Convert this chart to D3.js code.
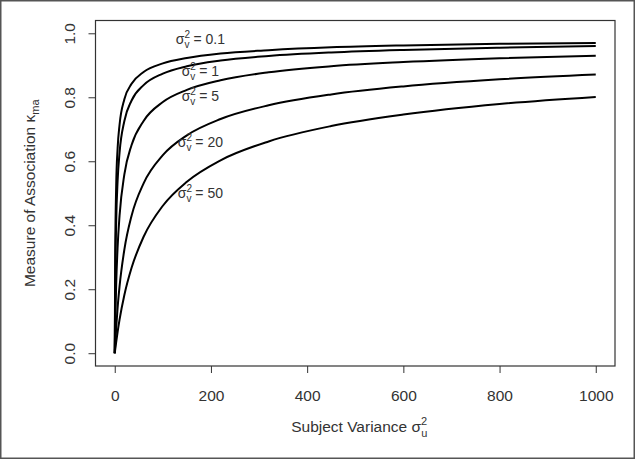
<!DOCTYPE html>
<html>
<head>
<meta charset="utf-8">
<script src="https://cdn.jsdelivr.net/npm/d3@7"></script>
<style>
  body { margin: 0; background: #fff; }
  text { font-family: "Liberation Sans", Arial, sans-serif; fill: #333; }
</style>
</head>
<body>
<div id="chart-area"></div>
<script>

// subject variance (x) and the kappa curves
const suValues = [0, 1, 3, 6, 10, 20, 35, 60, 100, 150, 220, 320, 450, 600, 800, 1000];
const kappaV01 = [0, 0.316, 0.523, 0.641, 0.714, 0.794, 0.842, 0.879, 0.906, 0.923, 0.937, 0.947, 0.956, 0.962, 0.967, 0.970];
const kappaV1  = [0, 0.216, 0.410, 0.540, 0.627, 0.726, 0.790, 0.838, 0.874, 0.897, 0.915, 0.929, 0.940, 0.948, 0.955, 0.960];
const kappaV5  = [0, 0.091, 0.216, 0.333, 0.430, 0.559, 0.651, 0.726, 0.785, 0.823, 0.853, 0.878, 0.897, 0.910, 0.922, 0.930];
const kappaV20 = [0, 0.029, 0.080, 0.143, 0.209, 0.324, 0.430, 0.531, 0.619, 0.681, 0.732, 0.775, 0.809, 0.834, 0.856, 0.871];
const kappaV50 = [0, 0.012, 0.035, 0.067, 0.105, 0.182, 0.267, 0.364, 0.461, 0.536, 0.603, 0.662, 0.710, 0.746, 0.779, 0.801];

const seriesNames = ["0.1", "1", "5", "20", "50"];
// where each curve label sits (x in subject variance, y in kappa)
const labelSu = [178, 178, 178, 178, 178];
const labelKappa = [0.965, 0.868, 0.787, 0.645, 0.486];

const xTicks = [0, 200, 400, 600, 800, 1000];
const yTicks = [0, 0.2, 0.4, 0.6, 0.8, 1.0];

// margin convention
let margin = {top: 20.5, right: 20, bottom: 93, left: 95.5};
let width = 635 - margin.left - margin.right;
let height = 459 - margin.top - margin.bottom;

let root = d3.select("#chart-area")
  .append("svg")
  .attr("width", 635)
  .attr("height", 459);

// outer picture frame
root.append("rect")
  .attr("x", 0.75).attr("y", 0.75)
  .attr("width", 633.5).attr("height", 457.5)
  .attr("fill", "#fff")
  .attr("stroke", "#555")
  .attr("stroke-width", 1.5);

let svg = root.append("g")
  .attr("transform", "translate(" + margin.left + "," + margin.top + ")");

// R style: 4% padding on each side
let x = d3.scaleLinear().domain([-40, 1040]).range([0, width]);
let y = d3.scaleLinear().domain([-0.04, 1.04]).range([height, 0]);

let allSeries = [kappaV01, kappaV1, kappaV5, kappaV20, kappaV50].map(function(vals) {
  return vals.map(function(k, i) { return {su: suValues[i], k: k}; });
});

let line = d3.line()
  .x(function(d) { return x(d.su); })
  .y(function(d) { return y(d.k); })
  .curve(d3.curveMonotoneX);

svg.selectAll(".curve")
  .data(allSeries)
  .enter()
  .append("path")
  .attr("class", "curve")
  .attr("d", line)
  .attr("fill", "none")
  .attr("stroke", "#000")
  .attr("stroke-width", 2)
  .attr("stroke-linejoin", "round");

// box
svg.append("rect")
  .attr("width", width)
  .attr("height", height)
  .attr("fill", "none")
  .attr("stroke", "#333")
  .attr("stroke-width", 1.2);

/** Axes */
let xAxis = d3.axisBottom(x).tickValues(xTicks).tickSize(7).tickPadding(17).tickFormat(d3.format("d"));
let gx = svg.append("g")
  .attr("transform", "translate(0," + height + ")")
  .call(xAxis);
gx.select(".domain").remove();
gx.selectAll(".tick line").attr("stroke", "#333");
gx.selectAll(".tick text").attr("font-size", 15.5).attr("fill", "#333");

let yAxis = d3.axisLeft(y).tickValues(yTicks).tickSize(7).tickFormat(d3.format(".1f"));
let gy = svg.append("g").call(yAxis);
gy.select(".domain").remove();
gy.selectAll(".tick line").attr("stroke", "#333");
gy.selectAll(".tick text")
  .attr("font-size", 15.5)
  .attr("fill", "#333")
  .attr("text-anchor", "middle")
  .attr("x", null).attr("dy", null)
  .attr("transform", "translate(-20.5,0) rotate(-90)");

// x title
let xt = svg.append("text")
  .attr("x", width / 2 + 4)
  .attr("y", 432 - margin.top)
  .attr("text-anchor", "middle")
  .attr("font-size", 15.5);
xt.append("tspan").text("Subject Variance \u03C3");
xt.append("tspan").attr("font-size", 11).attr("dy", -7).text("2");
xt.append("tspan").attr("font-size", 11).attr("dx", -6).attr("dy", 12).text("u");

// y title
let yt = svg.append("text")
  .attr("transform", "translate(" + (35 - margin.left) + "," + (height / 2) + ") rotate(-90)")
  .attr("text-anchor", "middle")
  .attr("font-size", 15.5);
yt.append("tspan").text("Measure of Association \u03BA");
yt.append("tspan").attr("font-size", 11).attr("dy", 4).text("ma");

// curve labels
seriesNames.forEach(function(name, i) {
  let t = svg.append("text")
    .attr("x", x(labelSu[i]))
    .attr("y", y(labelKappa[i]))
    .attr("text-anchor", "middle")
    .attr("font-size", 14);
  t.append("tspan").text("\u03C3");
  t.append("tspan").attr("font-size", 10).attr("dy", -6).text("2");
  t.append("tspan").attr("font-size", 10).attr("dx", -5.5).attr("dy", 10).text("v");
  t.append("tspan").attr("dy", -4).text(" = " + name);
});

</script>
</body>
</html>
